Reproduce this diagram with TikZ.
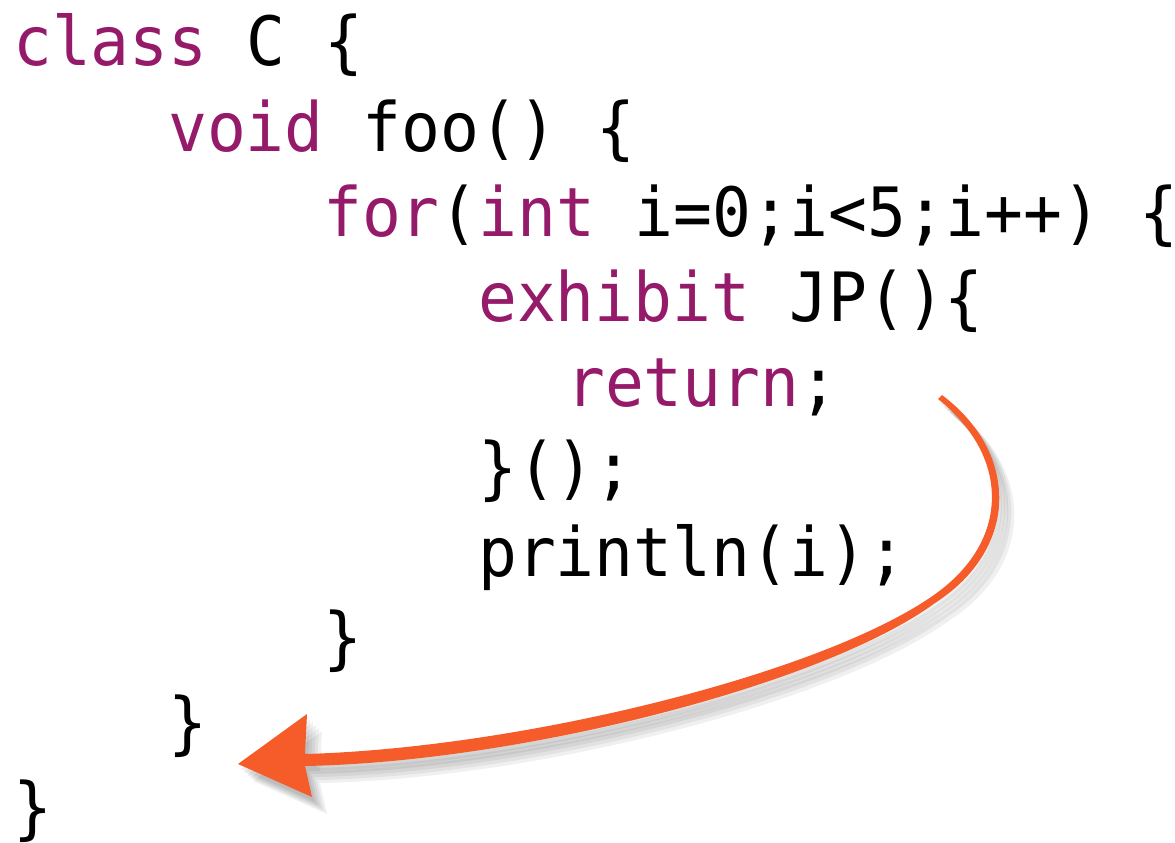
\documentclass[tikz,border=0pt]{standalone}
\usepackage{fontspec}
\newfontfamily\codefont[FakeStretch=0.95]{DejaVu Sans Mono}
\definecolor{kwpurple}{RGB}{149,26,105}
\definecolor{brushorange}{RGB}{246,92,42}
\newcommand{\kw}[1]{\textcolor{kwpurple}{#1}}
\tikzset{
  codeline/.style={anchor=base west,inner sep=0pt,font=\codefont\fontsize{68}{85}\selectfont},
  brushshadow/.style={fill=black,opacity=0.06}
}
\begin{document}
\begin{tikzpicture}[x=1pt,y=-1pt]
  \useasboundingbox (0,0) rectangle (1175,843);
  \node[codeline] (cls)  at (13,66)  {\kw{class} C \{};
  \node[codeline] (foo)  at (168,151) {\kw{void} foo() \{};
  \node[codeline] (loop) at (323,236) {\kw{for}(\kw{int} i=0;i<5;i++) \{};
  \node[codeline] (jp)   at (478,321) {\kw{exhibit} JP()\{};
  \node[codeline] (ret)  at (566,406) {\kw{return};};
  \node[codeline] (jpend) at (478,491) {\}();};
  \node[codeline] (prn)  at (478,576) {println(i);};
  \node[codeline] (loopend) at (323,661) {\}};
  \node[codeline] (fooend)  at (168,746) {\}};
  \node[codeline] (clsend)  at (13,831)  {\}};
  % soft shadow under the brush arrow
  \foreach \dx/\dy in {3/5,6/8,9/11,12/14,15/17} {
    \fill[brushshadow,shift={(\dx,\dy)}]
      (942,395) .. controls (1019,453) and (1020,548) .. (935,603)
      .. controls (823,685) and (520,762) .. (305,766)
      -- (312,797) -- (238,764) -- (307,714) -- (305,754)
      .. controls (520,748) and (817,675) .. (931,597)
      .. controls (1011,543) and (1011,457) .. (938,399) -- cycle;
  }
  % brush arrow from return; back out of the method
  \fill[brushorange]
    (942,395) .. controls (1019,453) and (1020,548) .. (935,603)
    .. controls (823,685) and (520,762) .. (305,766)
    -- (312,797) -- (238,764) -- (307,714) -- (305,754)
    .. controls (520,748) and (817,675) .. (931,597)
    .. controls (1011,543) and (1011,457) .. (938,399) -- cycle;
\end{tikzpicture}
\end{document}
